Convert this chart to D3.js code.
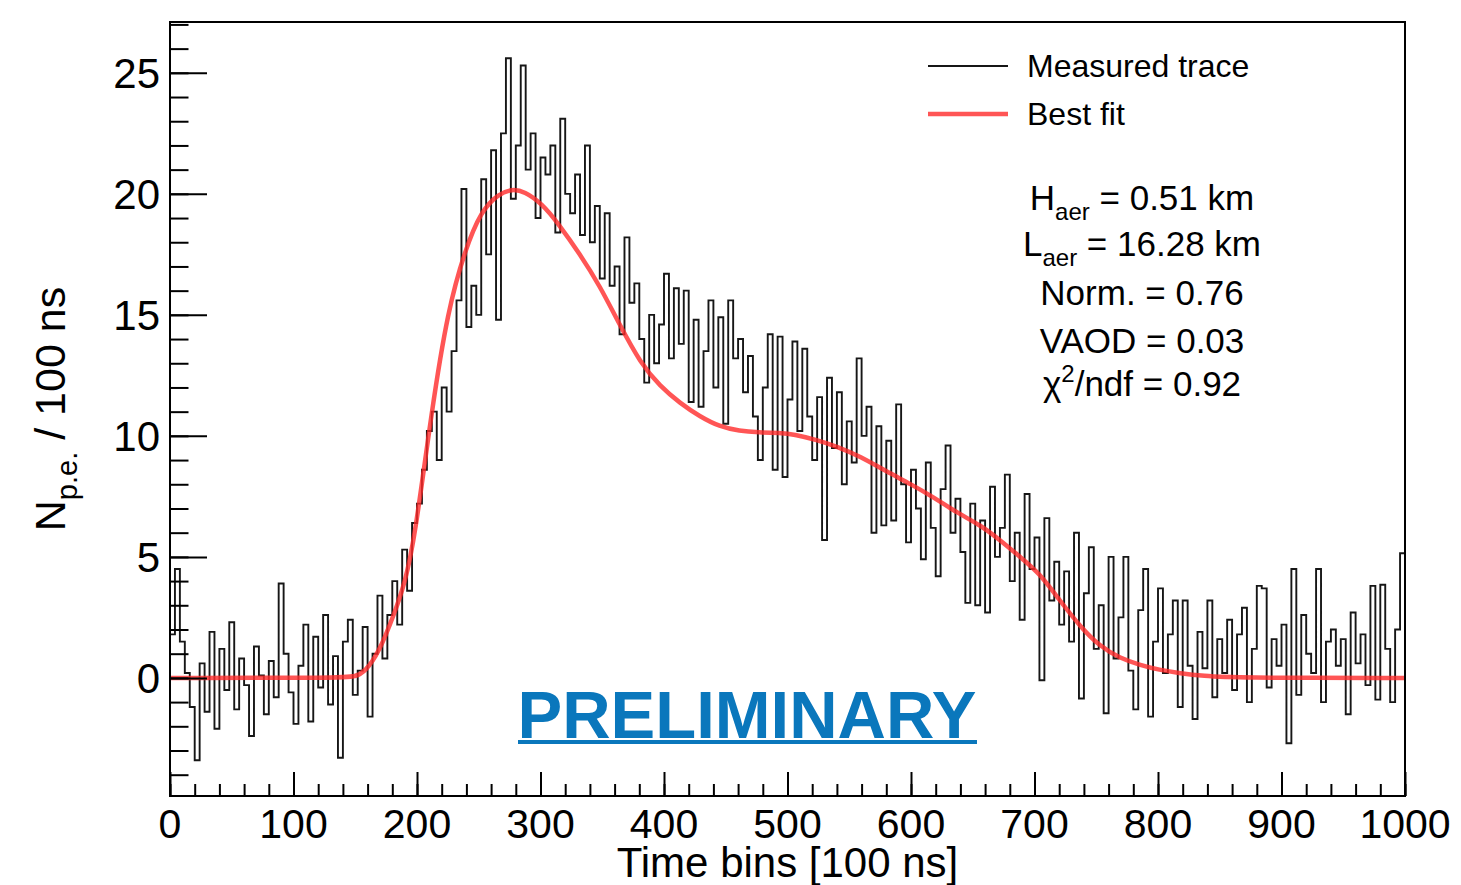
<!DOCTYPE html>
<html>
<head>
<meta charset="utf-8">
<script src="https://cdn.jsdelivr.net/npm/d3@7"></script>
<style>
  body { margin: 0; background: #fff; }
  svg { display: block; font-family: "Liberation Sans", Arial, Helvetica, sans-serif; }
</style>
</head>
<body>
<div id="chart"></div>
<script>
//### DATA ###
//>>> Measured trace, one value per 4 time bins
const binWidth = 4;
const traceValues = [
  1.8, 4.5, 1.5, 0.2, -1.2, -3.4, 0.6, -1.4, 1.9, -2.1,
  1.2, -0.5, 2.3, -1.3, 0.8, -0.3, -2.4, 1.3, 0.1, -1.5,
  0.7, -0.8, 3.9, 1.0, -0.6, -1.9, 0.5, 2.2, -1.8, 1.7,
  -0.4, 2.6, -1.1, 0.9, -3.3, 1.5, 2.4, -0.7, 0.3, 2.1,
  -1.6, 1.0, 3.4, 0.8, 2.6, 4.0, 2.2, 5.3, 3.6, 6.4,
  7.2, 8.6, 10.2, 11.0, 9.0, 12.0, 11.0, 13.5, 15.6, 20.2,
  14.5, 16.2, 15.0, 20.6, 17.5, 21.8, 14.8, 22.5, 25.6, 19.8,
  22.0, 25.3, 21.0, 22.5, 19.0, 21.5, 20.8, 22.0, 18.4, 23.1,
  20.0, 19.2, 20.8, 18.3, 22.0, 18.0, 19.5, 16.5, 19.2, 16.2,
  17.0, 14.2, 18.2, 15.5, 16.3, 14.0, 12.2, 15.0, 13.0, 14.6,
  16.7, 13.2, 16.1, 13.8, 16.0, 11.4, 14.8, 11.2, 13.5, 15.6,
  12.0, 14.9, 10.5, 15.6, 13.2, 14.0, 11.8, 13.3, 10.8, 9.0,
  12.0, 14.2, 8.6, 14.1, 8.3, 11.5, 13.9, 10.2, 13.6, 10.8,
  9.0, 11.6, 5.7, 12.4, 9.5, 11.8, 8.0, 10.6, 8.9, 13.2,
  10.0, 11.2, 6.0, 10.4, 6.3, 9.8, 6.5, 11.3, 8.0, 5.6,
  8.6, 7.0, 4.9, 8.9, 6.2, 4.2, 7.8, 9.6, 6.0, 7.4,
  5.2, 3.1, 7.2, 3.0, 6.5, 2.7, 7.9, 5.0, 6.2, 8.4,
  4.0, 6.0, 2.4, 7.6, 4.5, 5.8, -0.1, 6.6, 3.2, 4.8,
  2.2, 4.4, 1.5, 6.0, -0.85, 3.5, 5.4, 1.2, 3.0, -1.46,
  5.0, 0.8, 2.5, 5.0, 0.3, -1.3, 2.8, 4.5, -1.6, 1.5,
  3.7, 0.2, 1.8, 3.2, -1.2, 3.2, 0.5, -1.7, 1.9, 0.4,
  3.2, -0.8, 1.6, 0.2, 2.4, -0.5, 1.8, 2.9, -1.0, 1.2,
  3.8, 3.7, -0.4, 1.6, 0.5, 2.2, -2.7, 4.5, -0.7, 2.6,
  1.0, 0.2, 4.5, -1.0, 1.5, 2.0, 0.5, 1.6, -1.5, 2.7,
  0.6, 1.8, -0.3, 3.8, -0.9, 3.85, 1.2, -1.0, 2.0, 5.15
];

//>>> Best fit curve, sampled points (time bin, N p.e.)
const fitBins = [0, 140, 150, 158, 169, 182, 190, 198, 212, 225, 239, 252, 266, 277, 287, 301, 314,
  332, 348, 364, 381, 397, 413, 429, 445, 461, 477, 494, 505, 524, 540, 559, 580, 600, 617, 638,
  656, 672, 688, 704, 720, 737, 753, 769, 785, 801, 818, 837, 860, 1000];
const fitValues = [0, 0, 0.05, 0.26, 1.03, 2.7, 3.9, 5.7, 11.1, 15.2, 17.7, 19.3, 20.0, 20.2, 20.1, 19.6, 18.8,
  17.5, 16.2, 14.6, 13.0, 12.04, 11.35, 10.8, 10.38, 10.2, 10.14, 10.12, 10.07, 9.83, 9.56, 9.15, 8.53, 8.0, 7.5, 6.8,
  6.32, 5.7, 5.01, 4.33, 3.23, 2.12, 1.3, 0.82, 0.54, 0.33, 0.19, 0.08, 0, 0];

//>>> Axis ticks and text
const xTicks = [0, 100, 200, 300, 400, 500, 600, 700, 800, 900, 1000];
const yTicks = [0, 5, 10, 15, 20, 25];
const legendItems = ['Measured trace', 'Best fit'];
const fitParams = [
  { name: 'H', sub: 'aer', value: ' = 0.51 km' },
  { name: 'L', sub: 'aer', value: ' = 16.28 km' },
  { name: 'Norm.', sub: '', value: ' = 0.76' },
  { name: 'VAOD', sub: '', value: ' = 0.03' },
  { name: 'χ', sup: '2', value: '/ndf = 0.92' }
];

//### LAYOUT ###
const width = 1461;
const height = 885;
const frame = { left: 170, right: 1405, top: 22, bottom: 796 };
const fitRed = '#ff2a2a';
const prelimBlue = '#0a77bc';

const svg = d3.select('#chart').append('svg')
  .attr('width', width)
  .attr('height', height);

svg.append('rect').attr('width', width).attr('height', height).attr('fill', '#fff');

//_____ SCALES _____
const x = d3.scaleLinear().domain([0, 1000]).range([frame.left, frame.right]);
const y = d3.scaleLinear().domain([-4.88, 27.1]).range([frame.bottom, frame.top]);

svg.append('clipPath').attr('id', 'clip')
  .append('rect')
  .attr('x', frame.left).attr('y', frame.top)
  .attr('width', frame.right - frame.left).attr('height', frame.bottom - frame.top);

//_____ MEASURED TRACE (step histogram) _____
const tracePoints = traceValues.map((v, i) => [i * binWidth, v]);
tracePoints.push([1000, traceValues[traceValues.length - 1]]);

svg.append('path')
  .datum(tracePoints)
  .attr('clip-path', 'url(#clip)')
  .attr('fill', 'none')
  .attr('stroke', '#161616')
  .attr('stroke-width', 1.9)
  .attr('d', d3.line().x(d => x(d[0])).y(d => y(d[1])).curve(d3.curveStepAfter));

//_____ BEST FIT _____
svg.append('path')
  .datum(fitBins.map((b, i) => [b, fitValues[i]]))
  .attr('clip-path', 'url(#clip)')
  .attr('fill', 'none')
  .attr('stroke', fitRed)
  .attr('stroke-opacity', 0.8)
  .attr('stroke-width', 4.5)
  .attr('d', d3.line().x(d => x(d[0])).y(d => y(d[1])).curve(d3.curveBasis));

//_____ FRAME _____
svg.append('rect')
  .attr('x', frame.left).attr('y', frame.top)
  .attr('width', frame.right - frame.left).attr('height', frame.bottom - frame.top)
  .attr('fill', 'none').attr('stroke', '#000').attr('stroke-width', 2);

//_____ X AXIS (ticks point inward) _____
const xAxis = d3.axisTop(x)
  .tickValues(xTicks)
  .tickSize(24)
  .tickFormat('');
const xMinor = d3.axisTop(x)
  .tickValues(d3.range(0, 1001, 20))
  .tickSize(12)
  .tickFormat('');

[xAxis, xMinor].forEach(ax => {
  const g = svg.append('g')
    .attr('transform', `translate(0,${frame.bottom})`)
    .call(ax);
  g.select('.domain').remove();
  g.selectAll('line').attr('stroke', '#000').attr('stroke-width', 2);
});

svg.append('g').selectAll('text')
  .data(xTicks)
  .enter().append('text')
  .attr('x', d => x(d))
  .attr('y', 838)
  .attr('text-anchor', 'middle')
  .attr('font-size', 41)
  .text(d => d);

svg.append('text')
  .attr('x', (frame.left + frame.right) / 2)
  .attr('y', 877)
  .attr('text-anchor', 'middle')
  .attr('font-size', 42)
  .text('Time bins [100 ns]');

//_____ Y AXIS (ticks point inward) _____
const yAxis = d3.axisRight(y)
  .tickValues(yTicks)
  .tickSize(37)
  .tickFormat('');
const yMinor = d3.axisRight(y)
  .tickValues(d3.range(-4, 28, 1))
  .tickSize(18.5)
  .tickFormat('');

[yAxis, yMinor].forEach(ax => {
  const g = svg.append('g')
    .attr('transform', `translate(${frame.left},0)`)
    .call(ax);
  g.select('.domain').remove();
  g.selectAll('line').attr('stroke', '#000').attr('stroke-width', 2);
});

svg.append('g').selectAll('text')
  .data(yTicks)
  .enter().append('text')
  .attr('x', 160)
  .attr('y', d => y(d) + 15)
  .attr('text-anchor', 'end')
  .attr('font-size', 42)
  .text(d => d);

const yTitle = svg.append('text')
  .attr('transform', `translate(65,${(frame.top + frame.bottom) / 2}) rotate(-90)`)
  .attr('text-anchor', 'middle')
  .attr('font-size', 43);
yTitle.append('tspan').text('N');
yTitle.append('tspan').attr('font-size', 29).attr('dy', 12).text('p.e.');
yTitle.append('tspan').attr('dy', -12).text('  / 100 ns');

//_____ LEGEND _____
const legend = svg.append('g').attr('id', 'legend');
legendItems.forEach((label, i) => {
  const ly = 66 + i * 48;
  legend.append('line')
    .attr('x1', 928).attr('x2', 1008)
    .attr('y1', ly).attr('y2', ly)
    .attr('stroke', i === 0 ? '#161616' : fitRed)
    .attr('stroke-opacity', i === 0 ? 1 : 0.8)
    .attr('stroke-width', i === 0 ? 1.9 : 4.5);
  legend.append('text')
    .attr('x', 1027)
    .attr('y', ly + 11)
    .attr('font-size', 32)
    .text(label);
});

//_____ FIT PARAMETERS _____
const paramY = [210, 256, 305, 353, 396];
fitParams.forEach((p, i) => {
  const t = svg.append('text')
    .attr('x', 1142)
    .attr('y', paramY[i])
    .attr('text-anchor', 'middle')
    .attr('font-size', 35);
  t.append('tspan').text(p.name);
  if (p.sub) {
    t.append('tspan').attr('font-size', 24).attr('dy', 10).text(p.sub);
    t.append('tspan').attr('dy', -10).text(p.value);
  } else if (p.sup) {
    t.append('tspan').attr('font-size', 24).attr('dy', -14).text(p.sup);
    t.append('tspan').attr('dy', 14).text(p.value);
  } else {
    t.append('tspan').text(p.value);
  }
});

//_____ PRELIMINARY _____
svg.append('text')
  .attr('x', 747)
  .attr('y', 738)
  .attr('text-anchor', 'middle')
  .attr('font-size', 66)
  .attr('font-weight', 'bold')
  .attr('fill', prelimBlue)
  .attr('textLength', 459)
  .attr('lengthAdjust', 'spacingAndGlyphs')
  .text('PRELIMINARY');
svg.append('rect')
  .attr('x', 518).attr('y', 740)
  .attr('width', 459).attr('height', 4)
  .attr('fill', prelimBlue);
</script>
</body>
</html>
